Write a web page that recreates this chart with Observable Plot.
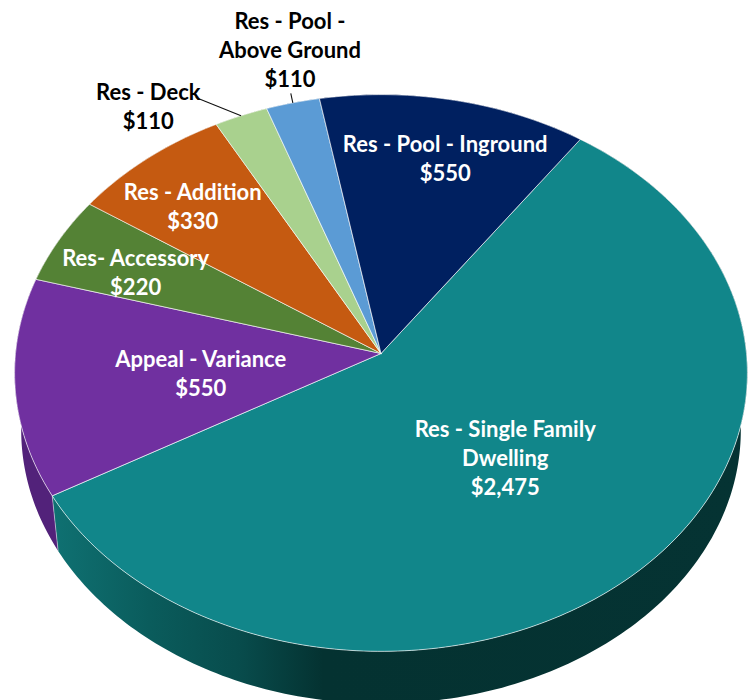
<!DOCTYPE html>
<html>
<head>
<meta charset="utf-8">
<script src="https://cdn.jsdelivr.net/npm/d3@7"></script>
<script src="https://cdn.jsdelivr.net/npm/@observablehq/plot@0.6"></script>
<style>
  html, body { margin: 0; padding: 0; background: #fff; }
  svg { display: block; }
</style>
</head>
<body>
<div id="chart"></div>
<script>
// Fees by permit type, clockwise from the largest slice.
const categories = [
  "Res - Single Family\nDwelling",
  "Appeal - Variance",
  "Res- Accessory",
  "Res - Addition",
  "Res - Deck",
  "Res - Pool -\nAbove Ground",
  "Res - Pool - Inground"
];
const fees = [2475, 550, 220, 330, 110, 110, 550];
const topColors = ["#11868a", "#7030a0", "#548235", "#c55a11", "#a9d18e", "#5b9bd5", "#002060"];
const wallColors = ["url(#tealWall)", "#52227a", "#3e6027", "#91420c", "#7c9a68", "#43729d", "#001746"];
const inkColors = ["white", "white", "white", "white", "black", "black", "white"];

// Label placement on the pie plane: radius as a share of the rim, turn in degrees from the slice middle.
const labelRadius = [0.496, 0.496, 0.747, 0.768, 1.168, 1.215, 0.763];
const labelTurn = [0.4, -1.4, -1.5, -1.9, -11.5, 2.1, 1.6];
// Leader lines for the two labels that sit outside the rim.
const leaderRadius = [null, null, null, null, 1.127, 1.039, null];
const leaderTurn = [null, null, null, null, -4.7, 0.2, null];

// View of the tilted pie.
const startAngle = 35.2;   // first slice edge, degrees clockwise from the back
const nearness = 0.07;     // perspective strength across the plane
const wallScale = 0.982;   // lower rim is slightly smaller than the upper one
const wallDrop = 0.208;    // lower rim offset, in plane units

const width = 752, height = 700;

// Projects a plane point given in polar form to the tilted view.
function project(turnDeg, radius) {
  const a = turnDeg * Math.PI / 180;
  const X = radius * Math.sin(a), Y = -radius * Math.cos(a);
  const w = 1 - nearness * Y;
  return {x: X / w, y: Y / w};
}
const lower = p => ({x: p.x * wallScale, y: p.y * wallScale + wallDrop});

const total = d3.sum(fees);
let running = startAngle;
const slices = fees.map((fee, i) => {
  const sweep = fee / total * 360;
  const s = {i, fee, a0: running, a1: running + sweep, mid: running + sweep / 2};
  running += sweep;
  return s;
});

function rim(s) {
  const n = Math.ceil(s.a1 - s.a0);
  return d3.range(n + 1).map(k => project(s.a0 + (s.a1 - s.a0) * k / n, 1));
}

const apex = project(0, 0);
const faceOf = s => [apex, ...rim(s), apex];
const wallOf = s => {
  const r = rim(s);
  return [...r, ...r.map(lower).reverse(), r[0]];
};

const wallEdges = slices.map(s => {
  const p = project(s.a0, 1), q = lower(p);
  return {x1: p.x, y1: p.y, x2: q.x, y2: q.y};
});

const labels = slices.map(s => ({
  ...project(s.mid + labelTurn[s.i], labelRadius[s.i]),
  text: `${categories[s.i]}\n${d3.format("$,")(s.fee)}`,
  ink: inkColors[s.i]
}));

const leaders = slices.filter(s => leaderRadius[s.i] != null).map(s => {
  const from = project(s.mid + leaderTurn[s.i], leaderRadius[s.i]);
  const to = project(s.mid, 1);
  return {x1: from.x, y1: from.y, x2: to.x, y2: to.y};
});

// Side shading of the large slice darkens from left to right.
function wallGradient() {
  const defs = d3.create("svg:defs");
  const g = defs.append("linearGradient").attr("id", "tealWall")
    .attr("x1", 0).attr("x2", 1).attr("y1", 0).attr("y2", 0);
  [[0, "#0f7172"], [0.14, "#0a5c5c"], [0.27, "#084c4c"], [0.39, "#043231"], [1, "#053333"]]
    .forEach(([o, c]) => g.append("stop").attr("offset", o).attr("stop-color", c));
  return defs.node();
}

const chart = Plot.plot({
  width, height,
  margin: 0,
  x: {domain: [-1, 1], range: [15, 746], axis: null},
  y: {domain: [-1, 1], range: [76, 630], axis: null},
  color: {type: "identity"},
  style: {background: "#fff", overflow: "hidden"},
  marks: [
    wallGradient,
    ...slices.map(s => Plot.line(wallOf(s), {
      x: "x", y: "y", fill: wallColors[s.i], stroke: "none"
    })),
    Plot.link(wallEdges, {
      x1: "x1", y1: "y1", x2: "x2", y2: "y2",
      stroke: "#fff", strokeOpacity: 0.6, strokeWidth: 0.75
    }),
    ...slices.map(s => Plot.line(faceOf(s), {
      x: "x", y: "y", fill: topColors[s.i],
      stroke: "#fff", strokeOpacity: 0.75, strokeWidth: 0.85, strokeLinejoin: "round"
    })),
    Plot.link(leaders, {
      x1: "x1", y1: "y1", x2: "x2", y2: "y2",
      stroke: "#111", strokeWidth: 1.1
    }),
    Plot.text(labels, {
      x: "x", y: "y", dy: -1.5, text: "text", fill: "ink",
      fontFamily: "Lato", fontWeight: "bold", fontSize: 22, lineHeight: 1.31,
      textAnchor: "middle", frameAnchor: "middle"
    })
  ]
});
document.getElementById("chart").append(chart);
</script>
</body>
</html>
